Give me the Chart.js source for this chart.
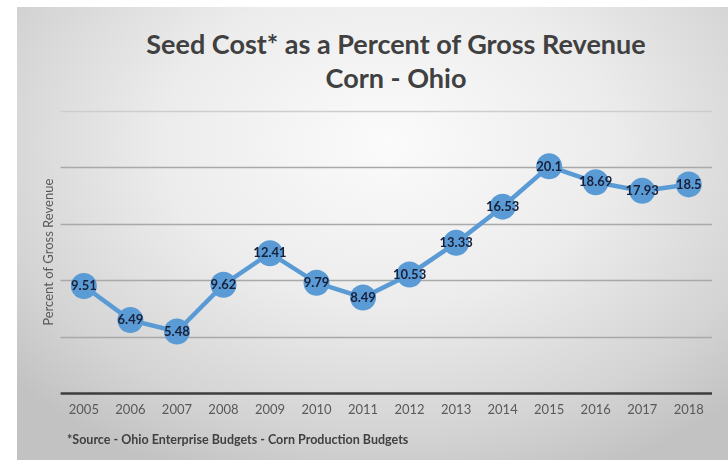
<!DOCTYPE html>
<html>
<head>
<meta charset="utf-8">
<script src="https://cdn.jsdelivr.net/npm/chart.js@4"></script>
<style>
    html, body { margin: 0; padding: 0; background: #ffffff; }
    #wrap { position: relative; width: 728px; height: 460px; overflow: hidden; }
    #panel {
        position: absolute; left: 17px; top: 7px; right: 0; bottom: 0;
        background: radial-gradient(ellipse 70% 80% at 52% 30%, #fbfbfb 0%, #ececec 45%, #d4d4d4 80%, #c2c2c2 100%);
    }
    #seedChart { position: absolute; left: 0; top: 0; }
    .title {
        position: absolute; left: 296px; width: 200px; white-space: nowrap;
        font-family: Lato, "Open Sans", sans-serif; font-weight: 700; font-size: 27px; color: #404040;
        display: flex; justify-content: center;
    }
    #note {
        position: absolute; left: 67px; top: 432px; white-space: nowrap;
        font-family: Lato, "Open Sans", sans-serif; font-weight: 700; font-size: 12.5px; color: #404040;
    }
</style>
</head>
<body>
<div id="wrap">
    <div id="panel"></div>
    <div class="title" style="top:27px">Seed Cost* as a Percent of Gross Revenue</div>
    <div class="title" style="top:61px">Corn - Ohio</div>
    <canvas id="seedChart" width="728" height="460"></canvas>
    <div id="note">*Source - Ohio Enterprise Budgets - Corn Production Budgets</div>
</div>
<script>
const years = ['2005', '2006', '2007', '2008', '2009', '2010', '2011', '2012', '2013', '2014', '2015', '2016', '2017', '2018'];
const seedPct = [9.51, 6.49, 5.48, 9.62, 12.41, 9.79, 8.49, 10.53, 13.33, 16.53, 20.1, 18.69, 17.93, 18.5];
const yMin = 0;
const yMax = 25;
const yStep = 5;

// horizontal gridlines kept inside the plot area; the zero line is the dark baseline
const plotGrid = {
    id: 'plotGrid',
    beforeDatasetsDraw(chart) {
        const { ctx, chartArea, scales } = chart;
        ctx.save();
        scales.y.ticks.forEach(t => {
            const y = Math.round(scales.y.getPixelForValue(t.value)) + 0.5;
            let color = '#a9a9a9';
            if (t.value === 0) color = '#3d3d3d';
            else if (t.value === yMax) color = '#cdcdcd';
            ctx.beginPath();
            ctx.strokeStyle = color;
            ctx.lineWidth = t.value === 0 ? 2.5 : 1.3;
            ctx.moveTo(chartArea.left, y);
            ctx.lineTo(chartArea.right, y);
            ctx.stroke();
        });
        ctx.restore();
    }
};

// writes each point's value on top of its marker
const pointLabels = {
    id: 'pointLabels',
    afterDatasetsDraw(chart) {
        const ctx = chart.ctx;
        const meta = chart.getDatasetMeta(0);
        const values = chart.data.datasets[0].data;
        ctx.save();
        ctx.font = 'bold 13px Lato, "Open Sans", sans-serif';
        ctx.fillStyle = '#18203a';
        ctx.textAlign = 'center';
        ctx.textBaseline = 'middle';
        meta.data.forEach((pt, i) => {
            ctx.fillText(String(values[i]), pt.x, pt.y);
        });
        ctx.restore();
    }
};

const ctx = document.getElementById('seedChart').getContext('2d');
new Chart(ctx, {
    type: 'line',
    data: {
        labels: years,
        datasets: [{
            label: 'Seed cost %',
            data: seedPct,
            borderColor: '#5b9bd5',
            backgroundColor: '#5b9bd5',
            borderWidth: 4.5,
            pointRadius: 13,
            pointBorderWidth: 0,
            pointBackgroundColor: '#5b9bd5',
            tension: 0
        }]
    },
    options: {
        responsive: false,
        animation: false,
        layout: { padding: { top: 111, left: 41, right: 16, bottom: 41 } },
        plugins: {
            legend: { display: false },
            tooltip: { enabled: false }
        },
        scales: {
            x: {
                offset: true,
                grid: { display: false },
                border: { display: false },
                ticks: {
                    color: '#595959',
                    padding: 1,
                    font: { family: 'Lato, "Open Sans", sans-serif', size: 13 }
                }
            },
            y: {
                min: yMin,
                max: yMax,
                border: { display: false },
                grid: { display: false, drawTicks: false },
                ticks: { display: false, stepSize: yStep },
                title: {
                    display: true,
                    text: 'Percent of Gross Revenue',
                    color: '#595959',
                    padding: { top: 0, bottom: 4 },
                    font: { family: 'Lato, "Open Sans", sans-serif', size: 13 }
                }
            }
        }
    },
    plugins: [plotGrid, pointLabels]
});
</script>
</body>
</html>
